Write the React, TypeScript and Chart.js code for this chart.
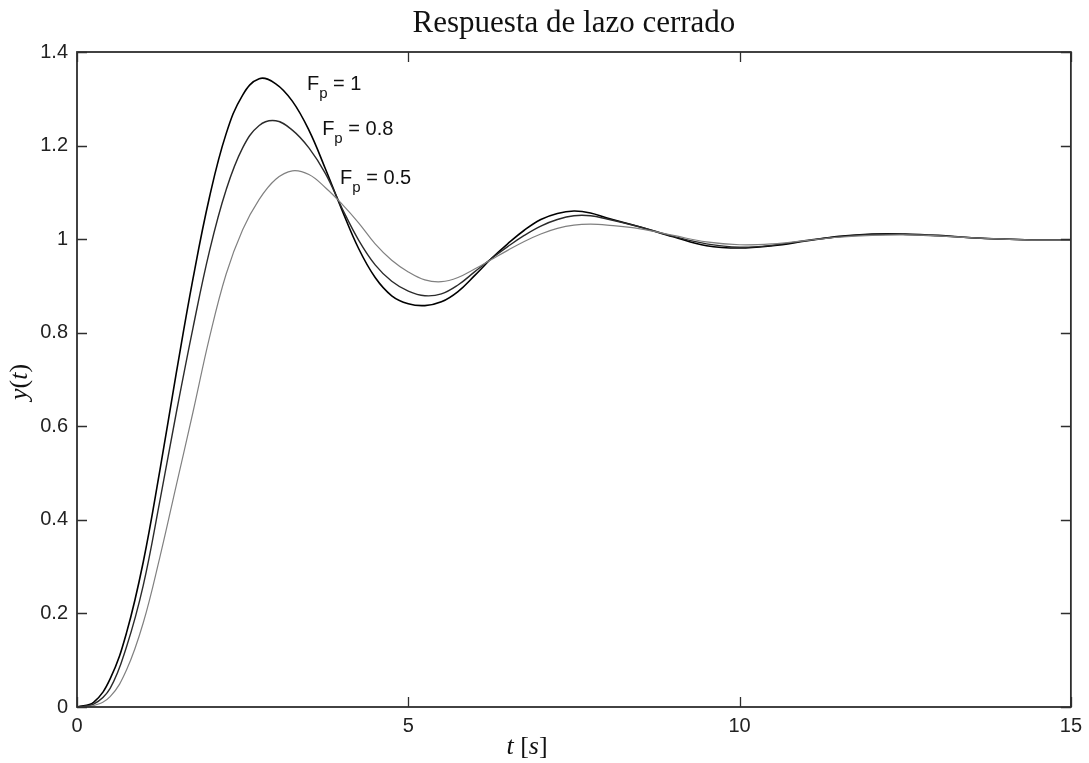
import React, { useEffect, useRef } from "react";
import { Chart, registerables } from "chart.js";

Chart.register(...registerables);

// time axis (s)
const timeS = [
  0, 0.25, 0.5, 0.75, 1, 1.25, 1.5, 1.75, 2, 2.25, 2.5, 2.75, 3, 3.25, 3.5, 3.75,
  4, 4.25, 4.5, 4.75, 5, 5.25, 5.5, 5.75, 6, 6.25, 6.5, 6.75, 7, 7.25, 7.5, 7.75,
  8, 8.5, 9, 9.5, 10, 10.5, 11, 11.5, 12, 12.5, 13, 13.5, 14, 14.5, 15,
];

// Fp = 1
const yFp1 = [
  0, 0.01, 0.06, 0.16, 0.31, 0.505, 0.715, 0.915, 1.09, 1.225, 1.308, 1.343, 1.332, 1.295, 1.233, 1.15,
  1.062, 0.98, 0.918, 0.879, 0.862, 0.858, 0.866, 0.888, 0.922, 0.958, 0.99, 1.019, 1.042, 1.055, 1.06, 1.056,
  1.045, 1.026, 1.005, 0.986, 0.981, 0.986, 0.996, 1.006, 1.011, 1.011, 1.008, 1.003, 1.0, 0.998, 0.998,
];

// Fp = 0.8
const yFp08 = [
  0, 0.006, 0.04, 0.13, 0.26, 0.44, 0.63, 0.81, 0.975, 1.105, 1.195, 1.243, 1.253, 1.233, 1.195, 1.14,
  1.066, 0.998, 0.945, 0.91, 0.889, 0.879, 0.883, 0.902, 0.93, 0.958, 0.984, 1.008, 1.028, 1.042, 1.05, 1.05,
  1.043, 1.026, 1.006, 0.99, 0.983, 0.987, 0.997, 1.005, 1.01, 1.01, 1.007, 1.003, 1.0, 0.998, 0.998,
];

// Fp = 0.5
const yFp05 = [
  0, 0.003, 0.022, 0.08, 0.18, 0.32, 0.475, 0.63, 0.79, 0.925, 1.02, 1.085, 1.128, 1.146, 1.138, 1.11,
  1.075, 1.035, 0.99, 0.955, 0.93, 0.913, 0.909, 0.918, 0.936, 0.956, 0.976, 0.995, 1.011, 1.023, 1.03, 1.032,
  1.03, 1.022, 1.008, 0.994, 0.988, 0.99, 0.997, 1.004, 1.008, 1.009, 1.007, 1.003, 1.0, 0.998, 0.998,
];

const xTicks = [0, 5, 10, 15];
const yTicks = [0, 0.2, 0.4, 0.6, 0.8, 1, 1.2, 1.4];

const titleText = "Respuesta de lazo cerrado";
const fpValues = ["1", "0.8", "0.5"];
const annotT = [3.47, 3.7, 3.97];
const annotY = [1.318, 1.222, 1.117];

const SANS = "'Liberation Sans', Arial, Helvetica, sans-serif";
const SERIF = "'Liberation Serif', 'Times New Roman', serif";

function drawMixed(
  ctx: CanvasRenderingContext2D,
  parts: { text: string; italic: boolean }[],
  size: number,
  cx: number,
  baseline: number
) {
  let total = 0;
  const widths = parts.map((p) => {
    ctx.font = `${p.italic ? "italic " : ""}${size}px ${SERIF}`;
    const w = ctx.measureText(p.text).width;
    total += w;
    return w;
  });
  let x = cx - total / 2;
  ctx.textAlign = "left";
  ctx.textBaseline = "alphabetic";
  parts.forEach((p, i) => {
    ctx.font = `${p.italic ? "italic " : ""}${size}px ${SERIF}`;
    ctx.fillText(p.text, x, baseline);
    x += widths[i];
  });
}

const decorPlugin = {
  id: "decor",
  afterDraw(chart: any) {
    const ctx: CanvasRenderingContext2D = chart.ctx;
    const { left, right, top, bottom } = chart.chartArea;
    const xs = chart.scales.x;
    const ys = chart.scales.y;
    ctx.save();
    // frame
    ctx.strokeStyle = "#2e2e2e";
    ctx.lineWidth = 1.8;
    ctx.strokeRect(left, top, right - left, bottom - top);
    // inward ticks
    const tl = 10;
    ctx.beginPath();
    xTicks.forEach((v) => {
      const px = Math.round(xs.getPixelForValue(v)) + 0.5;
      ctx.moveTo(px, bottom);
      ctx.lineTo(px, bottom - tl);
      ctx.moveTo(px, top);
      ctx.lineTo(px, top + tl);
    });
    yTicks.forEach((v) => {
      const py = Math.round(ys.getPixelForValue(v)) + 0.5;
      ctx.moveTo(left, py);
      ctx.lineTo(left + tl, py);
      ctx.moveTo(right, py);
      ctx.lineTo(right - tl, py);
    });
    ctx.lineWidth = 1.3;
    ctx.stroke();

    // title
    ctx.fillStyle = "#111";
    ctx.font = `31px ${SERIF}`;
    ctx.textAlign = "center";
    ctx.textBaseline = "alphabetic";
    ctx.fillText(titleText, (left + right) / 2, 32);

    // x label: t [s]
    drawMixed(
      ctx,
      [
        { text: "t", italic: true },
        { text: " [", italic: false },
        { text: "s", italic: true },
        { text: "]", italic: false },
      ],
      26,
      527,
      754
    );

    // y label: y(t)
    ctx.save();
    ctx.translate(27, 382);
    ctx.rotate(-Math.PI / 2);
    drawMixed(
      ctx,
      [
        { text: "y", italic: true },
        { text: "(", italic: false },
        { text: "t", italic: true },
        { text: ")", italic: false },
      ],
      26,
      0,
      0
    );
    ctx.restore();

    // annotations F_p = ...
    fpValues.forEach((val, i) => {
      const x = xs.getPixelForValue(annotT[i]);
      const y = ys.getPixelForValue(annotY[i]);
      ctx.textAlign = "left";
      ctx.textBaseline = "alphabetic";
      ctx.font = `20px ${SANS}`;
      ctx.fillText("F", x, y);
      const fw = ctx.measureText("F").width;
      ctx.font = `15px ${SANS}`;
      ctx.fillText("p", x + fw, y + 8);
      const pw = ctx.measureText("p").width;
      ctx.font = `20px ${SANS}`;
      ctx.fillText(" = " + val, x + fw + pw, y);
    });
    ctx.restore();
  },
};

export default function App() {
  const canvasRef = useRef<HTMLCanvasElement>(null);

  useEffect(() => {
    const canvas = canvasRef.current;
    if (!canvas) return;
    const mk = (ys: number[]) => timeS.map((t, i) => ({ x: t, y: ys[i] }));
    const common = {
      pointRadius: 0,
      fill: false,
      tension: 0.4,
    };
    const chart = new Chart(canvas, {
      type: "line",
      data: {
        datasets: [
          { label: "Fp = 0.5", data: mk(yFp05), borderColor: "#808080", borderWidth: 1.2, ...common },
          { label: "Fp = 0.8", data: mk(yFp08), borderColor: "#2a2a2a", borderWidth: 1.4, ...common },
          { label: "Fp = 1", data: mk(yFp1), borderColor: "#000000", borderWidth: 1.6, ...common },
        ],
      },
      options: {
        responsive: false,
        animation: false,
        devicePixelRatio: 1,
        layout: { padding: { left: 0, right: 16, top: 52, bottom: 0 } },
        plugins: {
          legend: { display: false },
          title: { display: false },
          tooltip: { enabled: false },
        },
        scales: {
          x: {
            type: "linear",
            min: 0,
            max: 15,
            afterBuildTicks: (s: any) => {
              s.ticks = xTicks.map((v) => ({ value: v }));
            },
            afterFit: (s: any) => {
              s.height = 56;
            },
            grid: { display: false, drawTicks: false },
            border: { display: false },
            ticks: {
              padding: 7,
              color: "#222",
              font: { family: SANS, size: 20 },
              maxRotation: 0,
              autoSkip: false,
              callback: (v: any) => String(v),
            },
          },
          y: {
            type: "linear",
            min: 0,
            max: 1.4,
            afterBuildTicks: (s: any) => {
              s.ticks = yTicks.map((v) => ({ value: v }));
            },
            afterFit: (s: any) => {
              s.width = 77;
            },
            grid: { display: false, drawTicks: false },
            border: { display: false },
            ticks: {
              padding: 9,
              color: "#222",
              font: { family: SANS, size: 20 },
              autoSkip: false,
              callback: (v: any) => String(Number(Number(v).toFixed(1))),
            },
          },
        },
      },
      plugins: [decorPlugin],
    });
    return () => chart.destroy();
  }, []);

  return (
    <div style={{ position: "absolute", left: 0, top: 0, width: 1089, height: 763, background: "#fff" }}>
      <canvas ref={canvasRef} width={1089} height={763} style={{ display: "block" }} />
    </div>
  );
}
